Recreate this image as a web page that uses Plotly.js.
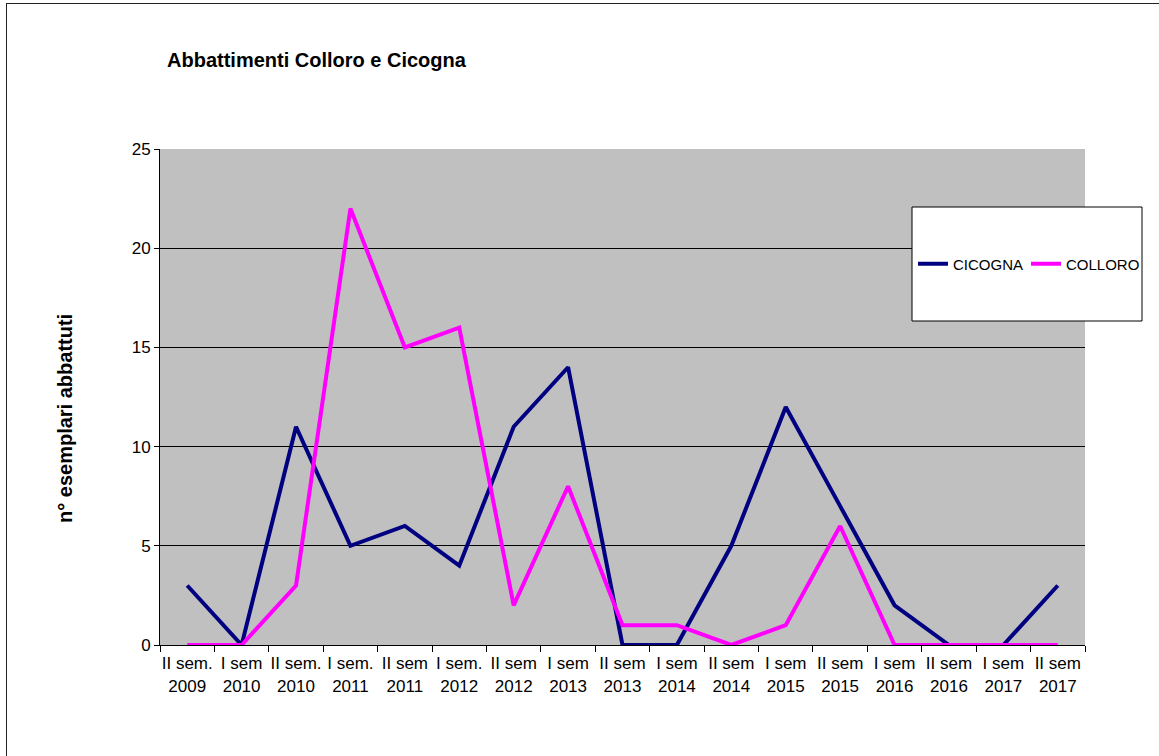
<!DOCTYPE html>
<html>
<head>
<meta charset="utf-8">
<script src="https://cdn.plot.ly/plotly-3.0.1.min.js"></script>
<style>
  html, body { margin: 0; padding: 0; background: #fff; }
  #wrap { position: relative; width: 1159px; height: 756px; overflow: hidden; }
  #chart { position: absolute; left: 0; top: 0; width: 1159px; height: 756px; }
  #frame { position: absolute; left: 6px; top: 3px; width: 1200px; height: 800px;
           border-left: 1px solid #222; border-top: 1px solid #222; pointer-events: none; }
</style>
</head>
<body>
<div id="wrap">
  <div id="chart"></div>
  <div id="frame"></div>
</div>
<script>
const categories = [
  "II sem.<br>2009", "I sem<br>2010", "II sem.<br>2010", "I sem.<br>2011", "II sem<br>2011",
  "I sem.<br>2012", "II sem<br>2012", "I sem<br>2013", "II sem<br>2013", "I sem<br>2014",
  "II sem<br>2014", "I sem<br>2015", "II sem<br>2015", "I sem<br>2016", "II sem<br>2016",
  "I sem<br>2017", "II sem<br>2017"
];
const cicogna = [3, 0, 11, 5, 6, 4, 11, 14, 0, 0, 5, 12, 7, 2, 0, 0, 3];
const colloro = [0, 0, 3, 22, 15, 16, 2, 8, 1, 1, 0, 1, 6, 0, 0, 0, 0];
const yTicks = [0, 5, 10, 15, 20, 25];

const FONT = "Liberation Sans, Arial, sans-serif";

const traces = [
  { x: categories, y: cicogna, name: "CICOGNA", type: "scatter", mode: "lines",
    line: { color: "#000080", width: 4 } },
  { x: categories, y: colloro, name: "COLLORO", type: "scatter", mode: "lines",
    line: { color: "#FF00FF", width: 4 } }
];

const layout = {
  width: 1159, height: 756,
  margin: { l: 160, r: 74, t: 149, b: 111, autoexpand: false },
  paper_bgcolor: "rgba(0,0,0,0)",
  plot_bgcolor: "#C0C0C0",
  font: { family: FONT, color: "#000", size: 17 },
  title: { text: "<b>Abbattimenti Colloro e Cicogna</b>", font: { family: FONT, size: 20, color: "#000" },
           xref: "container", yref: "container", x: 167 / 1159, xanchor: "left", y: 1 - 60 / 756, yanchor: "middle" },
  xaxis: {
    type: "category", range: [-0.5, categories.length - 0.5],
    tickson: "boundaries", ticks: "outside", ticklen: 6, tickcolor: "#000", tickwidth: 1,
    showline: true, linecolor: "#000", linewidth: 1, showgrid: false, zeroline: false,
    tickfont: { family: FONT, size: 17, color: "#000" }, tickangle: 0, automargin: false,
    ticklabelstandoff: 3
  },
  yaxis: {
    range: [0, 25], tickvals: yTicks, ticks: "outside", ticklen: 5, tickcolor: "#000", tickwidth: 1,
    showline: true, linecolor: "#000", linewidth: 1, showgrid: true, gridcolor: "#000", gridwidth: 1,
    zeroline: false, tickfont: { family: FONT, size: 17, color: "#000" }, automargin: false
  },
  annotations: [{
    text: "<b>n° esemplari abbattuti</b>", textangle: -90, showarrow: false,
    xref: "paper", yref: "paper", x: (65 - 160) / 925, y: (645 - 419) / 496,
    xanchor: "center", yanchor: "middle", font: { family: FONT, size: 20, color: "#000" }
  }],
  shapes: [{
    type: "rect", xref: "paper", yref: "paper", layer: "above",
    x0: (912 - 160) / 925, x1: (1142 - 160) / 925, y0: (645 - 321) / 496, y1: (645 - 207) / 496,
    fillcolor: "#fff", line: { color: "#000", width: 1 }
  }],
  legend: {
    orientation: "h", xref: "container", yref: "container",
    x: 913 / 1159, xanchor: "left", y: 1 - 264 / 756, yanchor: "middle",
    bgcolor: "rgba(0,0,0,0)", borderwidth: 0, font: { family: FONT, size: 15, color: "#000" },
    entrywidth: 68, entrywidthmode: "pixels", tracegroupgap: 0, itemwidth: 30
  },
  showlegend: true
};

Plotly.newPlot("chart", traces, layout, { displayModeBar: false, staticPlot: true });
</script>
</body>
</html>
